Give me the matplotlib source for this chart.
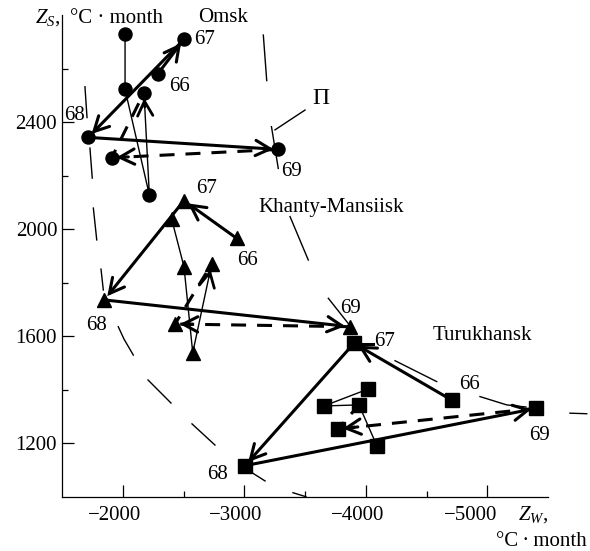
import matplotlib
matplotlib.use('Agg')
import matplotlib.pyplot as plt

plt.rcParams['font.family'] = ['Liberation Serif', 'DejaVu Serif']
plt.rcParams['mathtext.fontset'] = 'custom'
plt.rcParams['mathtext.rm'] = 'Liberation Serif'
plt.rcParams['mathtext.it'] = 'Liberation Serif:italic'
plt.rcParams['font.size'] = 15

# ---------------- data ----------------
years = ['66', '67', '68', '69']

omsk_zw = [-2288, -2504, -1716, -3280]
omsk_zs = [2580, 2709, 2343, 2298]
omsk_next = (-1909, 2267)
omsk_thin_zw = [-2019, -2019, -2219, -2175]
omsk_thin_zs = [2728, 2522, 2128, 2510]

khm_zw = [-2938, -2504, -1848, -3870]
khm_zs = [1966, 2107, 1736, 1636]
khm_next = (-2430, 1646)
khm_thin_zw = [-2403, -2504, -2576, -2732]
khm_thin_zs = [2037, 1860, 1539, 1870]

tur_zw = [-4707, -3903, -3006, -5401]
tur_zs = [1362, 1574, 1117, 1331]
tur_next = (-3772, 1254)
tur_thin_zw = [-4019, -3656, -3944, -4093]
tur_thin_zs = [1403, 1340, 1344, 1190]

# long-dashed envelope curves (Z_W, Z_S) pieces
env_left = [
    [(-1689, 2532), (-1706, 2417)],
    [(-1730, 2303), (-1749, 2191)],
    [(-1758, 2079), (-1786, 1960)],
    [(-1821, 1851), (-1840, 1773)],
    [(-1963, 1636), (-2010, 1590), (-2087, 1530)],
    [(-2208, 1437), (-2397, 1351)],
    [(-2570, 1273), (-2759, 1194)],
    [(-3056, 1093), (-3171, 1060)],
    [(-3401, 1016), (-3508, 1001)],
]
env_right = [
    [(-3157, 2725), (-3185, 2555)],
    [(-3224, 2383), (-3280, 2227)],
    [(-3377, 2047), (-3527, 1885)],
    [(-3692, 1742), (-3898, 1624)],
    [(-4241, 1509), (-4584, 1431)],
    [(-4940, 1375), (-5160, 1344), (-5319, 1336)],
    [(-5681, 1313), (-5819, 1311)],
]
p_leader = [(-3253, 2371), (-3500, 2445)]
tur67_mark = [(-3953, 1571), (-4060, 1571)]

xticks_major = [-2000, -3000, -4000, -5000]
xtick_labels = ['\u22122000', '\u22123000', '\u22124000', '\u22125000']
xticks_minor = [-2500, -3500, -4500]
yticks_major = [1200, 1600, 2000, 2400]
yticks_minor = [1400, 1800, 2200, 2600]

# ---------------- figure ----------------
W, H = 590, 551
fig = plt.figure(figsize=(W / 100, H / 100), dpi=100)
L, R, T, B = 62, 548, 15, 497
ax = fig.add_axes([L / W, 1 - B / H, (R - L) / W, (B - T) / H])
ax.set_xlim(-1500, -5500)
ax.set_ylim(1000, 2800)

THICK = 2.2
THIN = 1.0
HEAD = '->,head_length=1.05,head_width=0.55'


def head(p0, p1, lw, shrink=3.5):
    ax.annotate('', xy=p1, xytext=p0,
                arrowprops=dict(arrowstyle=HEAD, lw=lw, color='k',
                                shrinkA=0, shrinkB=shrink, mutation_scale=10,
                                joinstyle='miter'),
                annotation_clip=False)


def frac(p0, p1, t):
    return (p0[0] + (p1[0] - p0[0]) * t, p0[1] + (p1[1] - p0[1]) * t)


def station(zw, zs, nxt, tzw, tzs, marker, offsets, thin_arrow=True, dash_to=3):
    pts = list(zip(zw, zs))
    # thin series
    ax.plot(tzw, tzs, color='k', lw=THIN, clip_on=False, zorder=2)
    tpts = list(zip(tzw, tzs))
    if thin_arrow:
        head(frac(tpts[-2], tpts[-1], 0.86), tpts[-1], 2.0, shrink=4)
    # thick solid arrows 66->67->68->69
    for a, b in zip(pts[:-1], pts[1:]):
        head(a, b, THICK)
    # dashed 69 -> next
    e = frac(pts[3], nxt, 0.97)
    ax.plot([pts[3][0], e[0]], [pts[3][1], e[1]], color='k', lw=THICK,
            linestyle=(0, (4.9, 3.6)), clip_on=False, zorder=2)
    head(frac(pts[3], nxt, 0.9), nxt, THICK)
    # dashed next -> thin point
    tgt = tpts[dash_to]
    e2 = frac(nxt, tgt, 0.85)
    ax.plot([nxt[0], e2[0]], [nxt[1], e2[1]], color='k', lw=THICK,
            linestyle=(2, (4.9, 3.6)), clip_on=False, zorder=2)
    # markers
    allx = list(zw) + [nxt[0]] + list(tzw)
    ally = list(zs) + [nxt[1]] + list(tzs)
    ax.plot(allx, ally, linestyle='none', marker=marker, ms=9.4,
            color='k', clip_on=False, zorder=4)
    for (x, y), yr, off in zip(pts, years, offsets):
        ax.annotate(yr, xy=(x, y), xytext=off, textcoords='offset pixels',
                    ha='center', va='center', fontsize=15, annotation_clip=False)


station(omsk_zw, omsk_zs, omsk_next, omsk_thin_zw, omsk_thin_zs, 'o',
        [(22, -13), (21, 0), (-14, 22), (13, -22)])
station(khm_zw, khm_zs, khm_next, khm_thin_zw, khm_thin_zs, '^',
        [(11, -22), (23, 12), (-8, -26), (1, 18)])
station(tur_zw, tur_zs, tur_next, tur_thin_zw, tur_thin_zs, 's',
        [(18, 16), (31, 2), (-27, -9), (4, -27)], thin_arrow=False, dash_to=2)

for seg in env_left + env_right:
    xs, ys = zip(*seg)
    ax.plot(xs, ys, color='k', lw=1.0, clip_on=False, zorder=1)
xs, ys = zip(*p_leader)
ax.plot(xs, ys, color='k', lw=1.0, clip_on=False, zorder=1)
xs, ys = zip(*tur67_mark)
ax.plot(xs, ys, color='k', lw=2.2, clip_on=False, zorder=1)

# ---------------- axes styling ----------------
for s in ['top', 'right']:
    ax.spines[s].set_visible(False)
ax.spines['left'].set_linewidth(0.9)
ax.spines['bottom'].set_linewidth(0.9)
ax.spines['bottom'].set_bounds(-1500, -5500)

ax.set_xticks(xticks_major)
ax.set_xticklabels([])
ax.set_xticks(xticks_minor, minor=True)
ax.set_yticks(yticks_major)
ax.set_yticklabels([str(v) for v in yticks_major])
ax.set_yticks(yticks_minor, minor=True)
ax.tick_params(which='major', direction='in', length=8.5, width=0.9, labelsize=15)
ax.tick_params(which='minor', direction='in', length=4.3, width=0.9)
ax.tick_params(axis='y', pad=3.5)

for v, lab, dx in zip(xticks_major, xtick_labels, [-8, -9, -8.5, -17]):
    ax.annotate(lab, xy=(v, 0), xycoords=ax.get_xaxis_transform(),
                xytext=(dx, -18), textcoords='offset pixels',
                ha='center', va='center', fontsize=15, annotation_clip=False)


def ftext(px, py, s, **kw):
    fig.text(px / W, 1 - py / H, s, **kw)


ftext(60, 23, '$Z_S$,', ha='right', va='baseline', fontsize=15)
ftext(70, 23, '°C · month', ha='left', va='baseline', fontsize=15)
ftext(518, 520, '$Z_W$,', ha='left', va='baseline', fontsize=15)
ftext(587, 546, '°C\u2009·\u2009month', ha='right', va='baseline', fontsize=15)
ftext(223, 17.5, 'Omsk', ha='center', va='center', fontsize=15)
ftext(331, 207, 'Khanty-Mansiisk', ha='center', va='center', fontsize=15)
ftext(482, 336, 'Turukhansk', ha='center', va='center', fontsize=15)
ftext(321, 98, 'П', ha='center', va='center', fontsize=17)

fig.savefig('out.png', dpi=100)
